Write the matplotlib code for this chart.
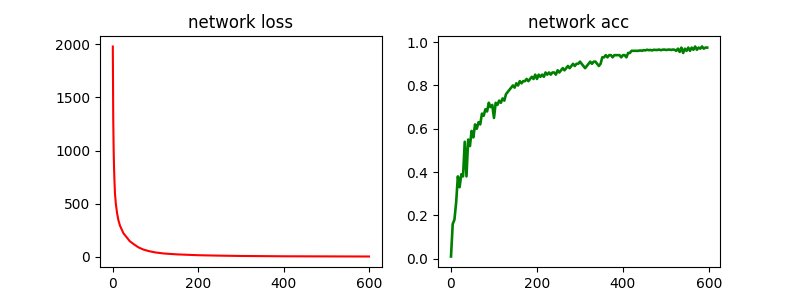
import numpy as np
import matplotlib
matplotlib.use("Agg")
import matplotlib.pyplot as plt

# loss (epoch, value)
loss_epochs = [0, 1, 2, 3, 4, 5, 7, 10, 13, 17, 21, 25, 32, 40, 50, 60, 71, 85,
               100, 120, 150, 200, 250, 300, 400, 500, 599]
loss = [1980, 1300, 1000, 820, 700, 600, 500, 410, 345, 290, 255, 220, 185, 145,
        115, 88, 68, 52, 40, 30, 22, 14, 10, 7, 4, 3, 2]

# accuracy sampled every 4 epochs
acc_epochs = np.arange(0, 600, 4)
acc = [
    0.01, 0.16, 0.18, 0.26, 0.38, 0.33, 0.39, 0.38, 0.54, 0.38,
    0.55, 0.52, 0.59, 0.56, 0.62, 0.60, 0.63, 0.62, 0.67, 0.66,
    0.69, 0.68, 0.72, 0.70, 0.71, 0.65, 0.72, 0.71, 0.73, 0.72,
    0.74, 0.73, 0.76, 0.77, 0.78, 0.79, 0.80, 0.79, 0.81, 0.80,
    0.82, 0.81, 0.82, 0.82, 0.83, 0.82, 0.83, 0.84, 0.83, 0.85,
    0.83, 0.85, 0.84, 0.85, 0.84, 0.86, 0.85, 0.86, 0.85, 0.86,
    0.86, 0.85, 0.87, 0.86, 0.87, 0.88, 0.87, 0.88, 0.89, 0.88,
    0.89, 0.90, 0.89, 0.90, 0.90, 0.91, 0.90, 0.89, 0.88, 0.89,
    0.90, 0.91, 0.90, 0.91, 0.91, 0.90, 0.89, 0.90, 0.93, 0.93,
    0.94, 0.93, 0.94, 0.94, 0.93, 0.94, 0.94, 0.94, 0.94, 0.93,
    0.94, 0.94, 0.93, 0.95, 0.95, 0.96, 0.96, 0.96, 0.96, 0.96,
    0.962, 0.96, 0.963, 0.962, 0.965, 0.963, 0.964, 0.962, 0.965, 0.964,
    0.964, 0.966, 0.963, 0.965, 0.966, 0.964, 0.965, 0.966, 0.964, 0.966,
    0.965, 0.96, 0.97, 0.955, 0.975, 0.95, 0.97, 0.96, 0.975, 0.96,
    0.975, 0.965, 0.98, 0.965, 0.975, 0.97, 0.98, 0.97, 0.975, 0.975,
]

plt.figure(figsize=(8, 3), dpi=100)

plt.subplot(1, 2, 1)
plt.plot(loss_epochs, loss, color='r')
plt.title("network loss")

plt.subplot(1, 2, 2)
plt.plot(acc_epochs, acc, color='g', linewidth=1.9)
plt.title("network acc")

plt.savefig("out.png")
